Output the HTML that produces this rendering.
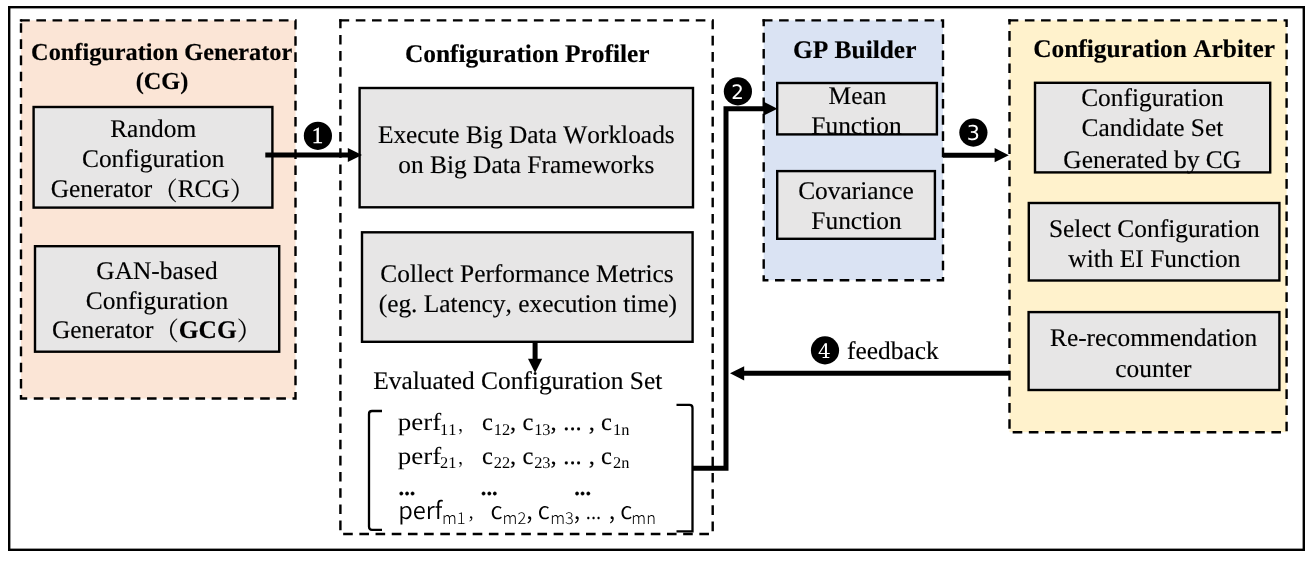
<!DOCTYPE html>
<html>
<head>
<meta charset="utf-8">
<title>Configuration tuning framework</title>
<style>
html,body{margin:0;padding:0;background:#fff;}
body{width:1314px;height:562px;overflow:hidden;}
svg{display:block;will-change:transform;}
text{font-family:"Liberation Serif","Noto Serif CJK SC",serif;fill:#000;font-kerning:none;text-rendering:geometricPrecision;stroke:#000;stroke-width:0.15px;}
.b{font-weight:bold;}
.t{font-size:25.4px;}
.n{font-size:25.4px;}
.m{font-size:24.6px;}
.s{font-size:16.4px;stroke:none;}
.box{fill:#e7e6e6;stroke:#000;stroke-width:2.4;}
.dash{stroke:#000;stroke-width:2.4;stroke-dasharray:9.6 6.57;stroke-dashoffset:0.8;}
.ar{stroke:#000;stroke-width:5;fill:none;}
.br{stroke:#000;stroke-width:2.3;fill:none;}
.num{fill:#fff;stroke:none;}
.sans{font-family:"Noto Sans CJK SC","Liberation Sans",sans-serif;font-weight:350;stroke:none;}
.c{font-size:16px;}
.l{font-weight:300;}
</style>
</head>
<body>
<svg width="1314" height="562" viewBox="0 0 1314 562">
<rect x="0" y="0" width="1314" height="562" fill="#fff"/>
<!-- outer frame -->
<rect x="9.2" y="7.2" width="1294.6" height="542.6" fill="none" stroke="#000" stroke-width="2.4"/>

<!-- Configuration Generator -->
<rect class="dash" x="21" y="20.4" width="274.5" height="378.1" fill="#fbe5d6"/>
<rect x="19.80" y="19.20" width="2.4" height="2.4" fill="#000"/>
<text class="b" style="font-size:24.3px" x="161.7" y="59.9" text-anchor="middle">Configuration Generator</text>
<text class="b" style="font-size:24.3px" x="162" y="89.3" text-anchor="middle">(CG)</text>
<rect class="box" x="33.6" y="107" width="238.8" height="100.6"/>
<text class="n" x="153.2" y="137.4" text-anchor="middle">Random</text>
<text class="n" x="153.2" y="167.3" text-anchor="middle">Configuration</text>
<text class="n" x="153" y="197.2" text-anchor="middle">Generator<tspan dy="2.4">（</tspan><tspan dy="-2.4">RCG</tspan><tspan dy="2.4">）</tspan></text>
<rect class="box" x="35" y="246.2" width="244.2" height="105.5"/>
<text class="n" x="157" y="279.1" text-anchor="middle">GAN-based</text>
<text class="n" x="157" y="309" text-anchor="middle">Configuration</text>
<text class="n" x="157" y="337.7" text-anchor="middle">Generator<tspan dy="2.4">（</tspan><tspan class="b" dy="-2.4">GCG</tspan><tspan dy="2.4">）</tspan></text>

<!-- Configuration Profiler -->
<rect class="dash" style="stroke-dasharray:9.6 6.59" x="340.4" y="20.4" width="372.3" height="513.6" fill="#fff"/>
<rect x="339.20" y="19.20" width="2.4" height="2.4" fill="#000"/>
<text class="b t" x="527.3" y="62" text-anchor="middle">Configuration Profiler</text>
<rect class="box" x="359.6" y="88" width="333.4" height="119.3"/>
<text class="n" x="526.3" y="142.8" text-anchor="middle">Execute Big Data Workloads</text>
<text class="n" x="526.3" y="173.2" text-anchor="middle">on Big Data Frameworks</text>
<rect class="box" x="362" y="232.3" width="330.6" height="109.5"/>
<text class="n" x="527" y="281.5" text-anchor="middle">Collect Performance Metrics</text>
<text class="n" x="527.8" y="311.9" text-anchor="middle">(eg. Latency, execution time)</text>
<text class="n" x="373.2" y="389">Evaluated Configuration Set</text>
<!-- matrix -->
<path class="br" d="M382 411 H372 Q369 411 369 414 V526.8 Q369 529.8 372 529.8 H382"/>
<path class="br" d="M676.5 404.9 H689.5 Q692.5 404.9 692.5 407.9 V531.3 H676.5"/>
<text class="m" style="stroke:none" transform="translate(397.7 429.7) scale(1.1 1)">perf</text>
<text class="m" x="440" y="429.7"><tspan class="s" dy="4.8">11</tspan><tspan class="c" dy="-4" dx="1.6">，</tspan></text>
<text class="m" x="482" y="429.7">c<tspan class="s" dy="4.8" dx="0.8">12</tspan><tspan dy="-4.8">, c</tspan><tspan class="s" dy="4.8" dx="0.8">13</tspan><tspan dy="-4.8">,</tspan><tspan dx="0.4"> ...</tspan><tspan dx="1"> , c</tspan><tspan class="s" dy="4.8" dx="0.9">1n</tspan></text>
<text class="m" style="stroke:none" transform="translate(397.7 463.5) scale(1.1 1)">perf</text>
<text class="m" x="440" y="463.5"><tspan class="s" dy="4.8">21</tspan><tspan class="c" dy="-4" dx="1.6">，</tspan></text>
<text class="m" x="482" y="463.5">c<tspan class="s" dy="4.8" dx="0.8">22</tspan><tspan dy="-4.8">, c</tspan><tspan class="s" dy="4.8" dx="0.8">23</tspan><tspan dy="-4.8">,</tspan><tspan dx="0.4"> ...</tspan><tspan dx="1"> , c</tspan><tspan class="s" dy="4.8" dx="0.9">2n</tspan></text>
<text class="b" style="font-size:22.5px" x="398.6" y="495.3">...</text>
<text class="b" style="font-size:22.5px" x="480.8" y="495.3">...</text>
<text class="b" style="font-size:22.5px" x="574.2" y="495.3">...</text>
<text class="sans" style="font-size:23.7px" x="398.3" y="518.8">perf<tspan class="s l" dy="5.3" dx="-0.4">m1</tspan><tspan class="c" dy="-4.5" dx="1.6">，</tspan></text>
<text class="sans" style="font-size:23.7px" x="490.6" y="518.8">c<tspan class="s l" dy="5.3">m2</tspan><tspan dy="-5.3">, c</tspan><tspan class="s l" dy="5.3" dx="0.4">m3</tspan><tspan dy="-5.3">,</tspan><tspan style="font-size:19px" dx="1.4"> ...</tspan><tspan dx="2.2"> , c</tspan><tspan class="s l" dy="5.3" dx="-1">mn</tspan></text>

<!-- GP Builder -->
<rect class="dash" x="763.7" y="20.4" width="179.3" height="259.8" fill="#dae3f3"/>
<rect x="762.50" y="19.20" width="2.4" height="2.4" fill="#000"/>
<text class="b t" x="854.7" y="57.5" text-anchor="middle">GP Builder</text>
<rect class="box" x="777.2" y="83" width="159.7" height="51.4"/>
<text class="n" x="857.5" y="103.7" text-anchor="middle">Mean</text>
<text class="n" x="856.5" y="133.8" text-anchor="middle">Function</text>
<rect class="box" x="777.2" y="171.1" width="157.7" height="67.7"/>
<text class="n" x="856" y="199.2" text-anchor="middle">Covariance</text>
<text class="n" x="856.5" y="229.4" text-anchor="middle">Function</text>

<!-- Configuration Arbiter -->
<rect class="dash" x="1009.5" y="20.4" width="277.1" height="411.8" fill="#fff2cc"/>
<rect x="1008.30" y="19.20" width="2.4" height="2.4" fill="#000"/>
<text class="b t" x="1154.1" y="56.6" text-anchor="middle">Configuration Arbiter</text>
<rect class="box" x="1035" y="82.8" width="235.2" height="89.6"/>
<text class="n" x="1152.4" y="106.1" text-anchor="middle">Configuration</text>
<text class="n" x="1152.4" y="136.4" text-anchor="middle">Candidate Set</text>
<text class="n" x="1152.2" y="167.7" text-anchor="middle">Generated by CG</text>
<rect class="box" x="1028.8" y="203" width="250.6" height="77.5"/>
<text class="n" x="1154.4" y="236.5" text-anchor="middle">Select Configuration</text>
<text class="n" x="1154.4" y="266.9" text-anchor="middle">with EI Function</text>
<rect class="box" x="1028.6" y="312.1" width="250.8" height="77.9"/>
<text class="n" x="1153.6" y="346.3" text-anchor="middle">Re-recommendation</text>
<text class="n" x="1153.3" y="376.5" text-anchor="middle">counter</text>

<!-- arrows -->
<path class="ar" d="M265.3 155 H350"/>
<path d="M347.8 147.9 L362 155 L347.8 162.1 Z" fill="#000"/>
<path class="ar" d="M692.5 468.3 H726 V108.7 H766"/>
<path d="M763.3 101.6 L777.4 108.7 L763.3 115.8 Z" fill="#000"/>
<path class="ar" d="M943 155.2 H997"/>
<path d="M994.6 148.1 L1008.8 155.2 L994.6 162.3 Z" fill="#000"/>
<path class="ar" d="M1009.4 373.3 H742"/>
<path d="M744.2 366.2 L730 373.3 L744.2 380.4 Z" fill="#000"/>
<path class="ar" d="M535.1 341 V361"/>
<path d="M528 358.8 L535.1 373 L542.2 358.8 Z" fill="#000"/>

<!-- step markers -->
<circle cx="317.9" cy="135.8" r="14.1" fill="#000"/>
<text class="num" style="font-size:23px;stroke:#fff;stroke-width:0.35px" x="317.5" y="143.4" text-anchor="middle">1</text>
<circle cx="737.9" cy="91.4" r="14.1" fill="#000"/>
<text class="num" style="font-family:'DejaVu Sans','Liberation Sans',sans-serif;font-size:19.8px" x="737.6" y="98.8" text-anchor="middle">2</text>
<circle cx="973.4" cy="132.6" r="14.1" fill="#000"/>
<text class="num" style="font-family:'DejaVu Sans','Liberation Sans',sans-serif;font-size:20.6px" x="973.3" y="140.2" text-anchor="middle">3</text>
<circle cx="825" cy="350.4" r="14.1" fill="#000"/>
<text class="num" style="font-family:'DejaVu Serif','Liberation Serif',serif;font-size:20px" x="824.3" y="357.8" text-anchor="middle">4</text>
<text class="n" x="847" y="358.9">feedback</text>
</svg>
</body>
</html>
